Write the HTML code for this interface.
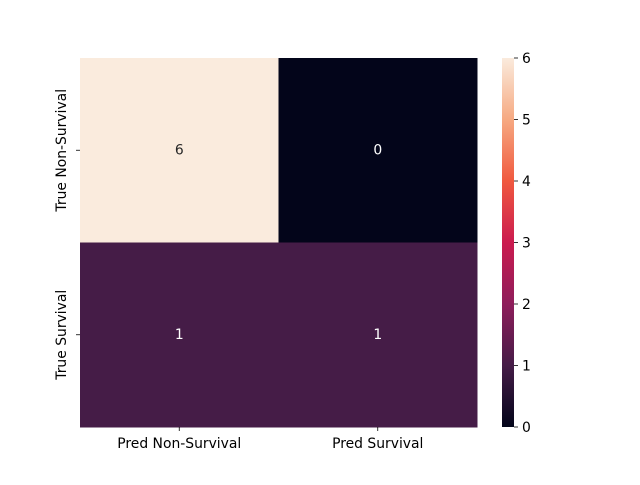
<!DOCTYPE html>
<html><head><meta charset="utf-8"><style>
body{margin:0;background:#fff;}
svg text{font-family:"DejaVu Sans","Liberation Sans",sans-serif;font-size:13.9px;}
</style></head><body>
<svg id="chart" width="640" height="480" xmlns="http://www.w3.org/2000/svg">
<defs>
<linearGradient id="rocket" x1="0" y1="1" x2="0" y2="0">
<stop offset="0" stop-color="#03051A"/>
<stop offset="0.167" stop-color="#451C47"/>
<stop offset="0.333" stop-color="#8E1D5B"/>
<stop offset="0.5" stop-color="#CB1B4F"/>
<stop offset="0.667" stop-color="#F0593F"/>
<stop offset="0.833" stop-color="#F6A981"/>
<stop offset="1" stop-color="#FAEBDD"/>
</linearGradient>
</defs>
<g id="cells"></g>
<g id="axes"></g>
<rect x="502" y="58" width="12" height="369" fill="url(#rocket)"/>
<g id="cbar"></g>
</svg>
<script>
const xLabels = ["Pred Non-Survival","Pred Survival"];
const yLabels = ["True Non-Survival","True Survival"];
const values = [[6,0],[1,1]];
const cbTicks = [0,1,2,3,4,5,6];
const vmin = 0, vmax = 6;

const L=80,R=477,T=58,B=427;
const cw=(R-L)/xLabels.length, ch=(B-T)/yLabels.length;
const stops=[[0,[3,5,26]],[0.167,[69,28,71]],[0.333,[142,29,91]],[0.5,[203,27,79]],[0.667,[240,89,63]],[0.833,[246,169,129]],[1,[250,235,221]]];
function color(v){
  let t=(v-vmin)/(vmax-vmin);
  for(let i=1;i<stops.length;i++){
    if(t<=stops[i][0]){
      const a=stops[i-1],b=stops[i],f=(t-a[0])/(b[0]-a[0]);
      const c=a[1].map((x,k)=>Math.round(x+(b[1][k]-x)*f));
      return `rgb(${c})`;
    }
  }
  return "rgb(250,235,221)";
}
const NS="http://www.w3.org/2000/svg";
function mk(tag,attrs,parent){const e=document.createElementNS(NS,tag);for(const k in attrs)e.setAttribute(k,attrs[k]);parent.appendChild(e);return e;}
const cells=document.getElementById('cells'),axes=document.getElementById('axes'),cbar=document.getElementById('cbar');
values.forEach((row,r)=>row.forEach((v,c)=>{
  const rect=mk('rect',{x:L+c*cw,y:T+r*ch,width:cw+0.5,height:ch+0.5,fill:color(v)},cells);
  
  
  const t=mk('text',{x:L+c*cw+cw/2,y:T+r*ch+ch/2+4,'text-anchor':'middle',fill:v>3?'#262626':'#ffffff'},cells);
  t.textContent=v;
  
  
}));
xLabels.forEach((lab,i)=>{
  const x=L+i*cw+cw/2;
  mk('line',{x1:x,x2:x,y1:B,y2:B+4,stroke:'#000','stroke-width':0.8},axes);
  const t=mk('text',{x:x,y:B+21,'text-anchor':'middle',fill:'#000'},axes);
  t.textContent=lab;
  
  
});
yLabels.forEach((lab,i)=>{
  const y=T+i*ch+ch/2;
  mk('line',{x1:L-4,x2:L,y1:y,y2:y,stroke:'#000','stroke-width':0.8},axes);
  const t=mk('text',{x:66,y:y,'text-anchor':'middle',fill:'#000',transform:`rotate(-90 66 ${y})`},axes);
  t.textContent=lab;
  
  
});
cbTicks.forEach(v=>{
  const y=B-(v-vmin)/(vmax-vmin)*(B-T);
  mk('line',{x1:514,x2:518,y1:y,y2:y,stroke:'#000','stroke-width':0.8},cbar);
  const t=mk('text',{x:522,y:y+5,fill:'#000'},cbar);
  t.textContent=v;
  
  
});
</script>
</body></html>
